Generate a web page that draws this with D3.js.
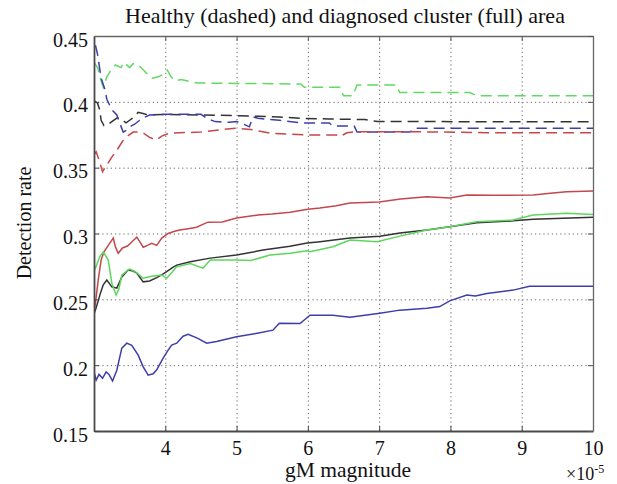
<!DOCTYPE html>
<html>
<head>
    <title>Detection rate vs gM magnitude</title>
    <style>
        body { margin: 0; background: #fff; }
        .grid line { stroke: #666; stroke-dasharray: 1.2,3; stroke-width: 1; }
        .grid path { display: none; }
        .series { fill: none; stroke-width: 1.5; }
    </style>
</head>
<body>
    <div id="chart"></div>
    <script src="https://d3js.org/d3.v7.min.js"></script>
    <script>
        // Tick values (x is in units of 1e-5)
        const xTicks = [4, 5, 6, 7, 8, 9, 10];
        const yTicks = [0.15, 0.2, 0.25, 0.3, 0.35, 0.4, 0.45];
        const xTickLabels = ["4", "5", "6", "7", "8", "9", "10"];
        const yTickLabels = ["0.15", "0.2", "0.25", "0.3", "0.35", "0.4", "0.45"];

        // Healthy area (dashed)
        const greenHealthy = [[3.0,0.430],[3.05,0.426],[3.1,0.416],[3.13,0.411],[3.18,0.419],[3.25,0.425],[3.3,0.428],[3.38,0.426],[3.42,0.430],[3.5,0.426],[3.55,0.429],[3.62,0.428],[3.68,0.425],[3.75,0.421],[3.82,0.418],[3.9,0.419],[3.98,0.421],[4.03,0.424],[4.08,0.419],[4.15,0.416],[4.22,0.417],[4.3,0.416],[4.45,0.4143],[5.0,0.414],[5.5,0.4138],[5.9,0.4135],[5.95,0.411],[6.45,0.411],[6.5,0.4046],[6.63,0.4046],[6.69,0.4128],[7.24,0.4128],[7.29,0.407],[8.27,0.407],[8.37,0.4046],[10,0.4046]];
        const blackHealthy = [[3.0,0.401],[3.05,0.399],[3.08,0.394],[3.1,0.386],[3.14,0.382],[3.2,0.383],[3.25,0.385],[3.33,0.388],[3.4,0.386],[3.45,0.384],[3.5,0.386],[3.55,0.388],[3.62,0.392],[3.7,0.391],[3.76,0.390],[4.0,0.3905],[4.5,0.390],[5.0,0.3895],[5.3,0.389],[5.6,0.3885],[5.9,0.3875],[6.3,0.387],[6.8,0.3865],[6.98,0.385],[10,0.3849]];
        const blueHealthy = [[3.02,0.443],[3.05,0.436],[3.1,0.418],[3.15,0.410],[3.18,0.402],[3.25,0.394],[3.32,0.390],[3.36,0.384],[3.41,0.377],[3.47,0.379],[3.5,0.381],[3.57,0.383],[3.64,0.386],[3.7,0.388],[3.78,0.390],[4.0,0.3905],[4.5,0.3905],[4.6,0.387],[4.7,0.385],[4.9,0.3845],[5.0,0.385],[5.1,0.383],[5.18,0.381],[5.23,0.3885],[5.3,0.3875],[5.6,0.386],[5.9,0.384],[6.3,0.384],[6.35,0.3816],[6.65,0.3816],[6.69,0.377],[7.43,0.377],[7.5,0.380],[10,0.380]];
        const redHealthy = [[3.0,0.360],[3.03,0.362],[3.07,0.356],[3.12,0.347],[3.18,0.352],[3.25,0.358],[3.33,0.364],[3.4,0.370],[3.47,0.374],[3.55,0.377],[3.62,0.377],[3.7,0.376],[3.78,0.373],[3.87,0.371],[3.95,0.374],[4.05,0.376],[4.2,0.3765],[4.5,0.377],[4.8,0.379],[5.0,0.380],[5.2,0.379],[5.5,0.376],[6.0,0.3748],[6.4,0.3748],[6.45,0.3738],[6.55,0.3765],[6.66,0.3773],[7.5,0.3773],[8.5,0.3766],[10,0.3765]];

        // Diagnosed cluster area (full)
        const redDiagnosed = [[3.0,0.241],[3.02,0.247],[3.06,0.265],[3.1,0.280],[3.14,0.286],[3.2,0.291],[3.27,0.2965],[3.3,0.290],[3.34,0.285],[3.4,0.289],[3.47,0.2905],[3.53,0.2935],[3.6,0.2972],[3.65,0.293],[3.69,0.2896],[3.75,0.291],[3.81,0.2925],[3.88,0.291],[3.95,0.2965],[4.04,0.300],[4.12,0.3015],[4.2,0.3026],[4.3,0.3035],[4.44,0.3048],[4.55,0.3075],[4.6,0.3086],[4.8,0.3088],[5.0,0.3117],[5.3,0.314],[5.5,0.3148],[5.75,0.3162],[6.0,0.3185],[6.17,0.3193],[6.4,0.321],[6.59,0.3231],[7.0,0.324],[7.3,0.3262],[7.67,0.3279],[7.99,0.327],[8.23,0.3292],[8.6,0.329],[9.16,0.3292],[9.4,0.3305],[9.63,0.3317],[10,0.3322]];
        const blackDiagnosed = [[3.0,0.239],[3.02,0.2418],[3.06,0.249],[3.09,0.2547],[3.13,0.261],[3.18,0.2646],[3.25,0.2595],[3.32,0.2585],[3.39,0.267],[3.48,0.2722],[3.55,0.2715],[3.6,0.270],[3.69,0.2633],[3.78,0.264],[3.88,0.2665],[3.96,0.269],[4.02,0.271],[4.1,0.274],[4.16,0.276],[4.35,0.2785],[4.63,0.2813],[5.0,0.2836],[5.37,0.2874],[5.75,0.2904],[5.99,0.2927],[6.17,0.2937],[6.59,0.2965],[7.01,0.298],[7.29,0.3003],[7.67,0.3026],[7.99,0.3051],[8.37,0.3081],[8.88,0.3096],[9.16,0.3109],[10,0.3124]];
        const greenDiagnosed = [[3.0,0.272],[3.02,0.2737],[3.08,0.2823],[3.13,0.2861],[3.2,0.2798],[3.25,0.2623],[3.31,0.2532],[3.35,0.258],[3.39,0.2684],[3.45,0.271],[3.5,0.2729],[3.58,0.271],[3.69,0.266],[3.81,0.2675],[3.95,0.2684],[4.02,0.266],[4.1,0.271],[4.16,0.2747],[4.35,0.2772],[4.53,0.2737],[4.63,0.2798],[5.0,0.2798],[5.2,0.2795],[5.47,0.2836],[5.75,0.285],[5.99,0.2868],[6.03,0.2861],[6.35,0.2899],[6.59,0.295],[6.97,0.2937],[7.29,0.298],[7.67,0.3026],[7.99,0.3051],[8.37,0.3089],[8.88,0.3102],[9.16,0.314],[9.63,0.3153],[10,0.3145]];
        const blueDiagnosed = [[3.0,0.195],[3.03,0.1886],[3.07,0.193],[3.12,0.190],[3.17,0.1949],[3.21,0.193],[3.26,0.188],[3.32,0.1962],[3.39,0.2129],[3.46,0.2167],[3.53,0.215],[3.62,0.2076],[3.69,0.1987],[3.76,0.1924],[3.83,0.1935],[3.88,0.1965],[3.97,0.2053],[4.04,0.2114],[4.09,0.2152],[4.16,0.2167],[4.25,0.222],[4.32,0.2235],[4.45,0.2205],[4.58,0.2167],[4.72,0.218],[5.0,0.2215],[5.29,0.2243],[5.51,0.2266],[5.6,0.2319],[5.89,0.2316],[6.03,0.238],[6.35,0.238],[6.59,0.2364],[7.01,0.2395],[7.29,0.2418],[7.67,0.2433],[7.85,0.2445],[7.99,0.2488],[8.23,0.2532],[8.35,0.2525],[8.51,0.2545],[8.88,0.257],[9.11,0.260],[10,0.260]];

        // Series table (data + style)
        const series = [
            { values: greenHealthy, color: "#62d962", dashed: true },
            { values: blackHealthy, color: "#333333", dashed: true },
            { values: blueHealthy, color: "#3e3eab", dashed: true },
            { values: redHealthy, color: "#c4474c", dashed: true },
            { values: redDiagnosed, color: "#c4474c", dashed: false },
            { values: blackDiagnosed, color: "#333333", dashed: false },
            { values: greenDiagnosed, color: "#5cd65c", dashed: false },
            { values: blueDiagnosed, color: "#3e3eab", dashed: false }
        ];

        const FONT = "'Liberation Serif', 'Times New Roman', serif";

        const W = 617, H = 484;
        const margin = { top: 36, right: 24, bottom: 53, left: 94 };
        const width = W - margin.left - margin.right;
        const height = H - margin.top - margin.bottom;

        const svg = d3.select("#chart").append("svg")
            .attr("width", W)
            .attr("height", H)
            .attr("font-family", FONT);

        const g = svg.append("g")
            .attr("transform", "translate(" + margin.left + "," + margin.top + ")");

        const x = d3.scaleLinear().domain([3, 10]).range([0, width]);
        const y = d3.scaleLinear().domain([0.15, 0.45]).range([height, 0]);

        // dotted grid
        g.append("g").attr("class", "grid")
            .attr("transform", "translate(0," + height + ")")
            .call(d3.axisBottom(x).tickValues(xTicks.slice(0, -1)).tickSize(-height).tickFormat(""));
        g.append("g").attr("class", "grid")
            .call(d3.axisLeft(y).tickValues(yTicks.slice(1, -1)).tickSize(-width).tickFormat(""));

        // lines
        g.append("clipPath").attr("id", "clip")
            .append("rect").attr("width", width).attr("height", height);

        const line = d3.line()
            .x(d => x(d[0]))
            .y(d => y(d[1]));

        g.append("g").attr("clip-path", "url(#clip)")
            .selectAll("path")
            .data(series)
            .join("path")
            .attr("class", "series")
            .attr("d", d => line(d.values))
            .attr("stroke", d => d.color)
            .attr("stroke-dasharray", d => d.dashed ? "11,6" : null);

        // axes with inward ticks (box style)
        const xAxis = g.append("g")
            .attr("transform", "translate(0," + height + ")")
            .call(d3.axisBottom(x).tickValues(xTicks).tickSizeInner(-5).tickSizeOuter(0).tickPadding(10)
                .tickFormat((d, i) => xTickLabels[i]));
        const yAxis = g.append("g")
            .call(d3.axisLeft(y).tickValues(yTicks).tickSizeInner(-5).tickSizeOuter(0).tickPadding(6)
                .tickFormat((d, i) => yTickLabels[i]));
        const topAxis = g.append("g")
            .call(d3.axisTop(x).tickValues(xTicks).tickSizeInner(-5).tickSizeOuter(0).tickFormat(""));
        const rightAxis = g.append("g")
            .attr("transform", "translate(" + width + ",0)")
            .call(d3.axisRight(y).tickValues(yTicks).tickSizeInner(-5).tickSizeOuter(0).tickFormat(""));

        [xAxis, yAxis, topAxis, rightAxis].forEach(a => a.attr("font-family", FONT).attr("font-size", 20));
        [xAxis, yAxis].forEach(a => {
            a.select(".domain").attr("stroke", "#4a4a4a").attr("stroke-width", 1.8);
            a.selectAll(".tick line").attr("stroke", "#444");
            a.selectAll("text").attr("fill", "#111");
        });
        [topAxis, rightAxis].forEach(a => {
            a.select(".domain").attr("stroke", "#666").attr("stroke-width", 1.3);
            a.selectAll(".tick line").attr("stroke", "#555");
        });
        yAxis.selectAll("text").attr("dy", "0.5em");

        // title and labels
        svg.append("text")
            .attr("x", 345).attr("y", 23)
            .attr("text-anchor", "middle")
            .attr("font-size", 22)
            .attr("fill", "#111")
            .text("Healthy (dashed) and diagnosed cluster (full) area");

        svg.append("text")
            .attr("transform", "translate(31,223) rotate(-90)")
            .attr("text-anchor", "middle")
            .attr("font-size", 20)
            .attr("fill", "#111")
            .text("Detection rate");

        svg.append("text")
            .attr("x", 348).attr("y", 477)
            .attr("text-anchor", "middle")
            .attr("font-size", 21.5)
            .attr("fill", "#111")
            .text("gM magnitude");

        const exp = svg.append("text")
            .attr("x", 566).attr("y", 480)
            .attr("font-size", 18)
            .attr("fill", "#111");
        exp.append("tspan").text("\u00d710");
        exp.append("tspan").attr("dy", -7).attr("font-size", 12).text("-5");
    </script>
</body>
</html>
